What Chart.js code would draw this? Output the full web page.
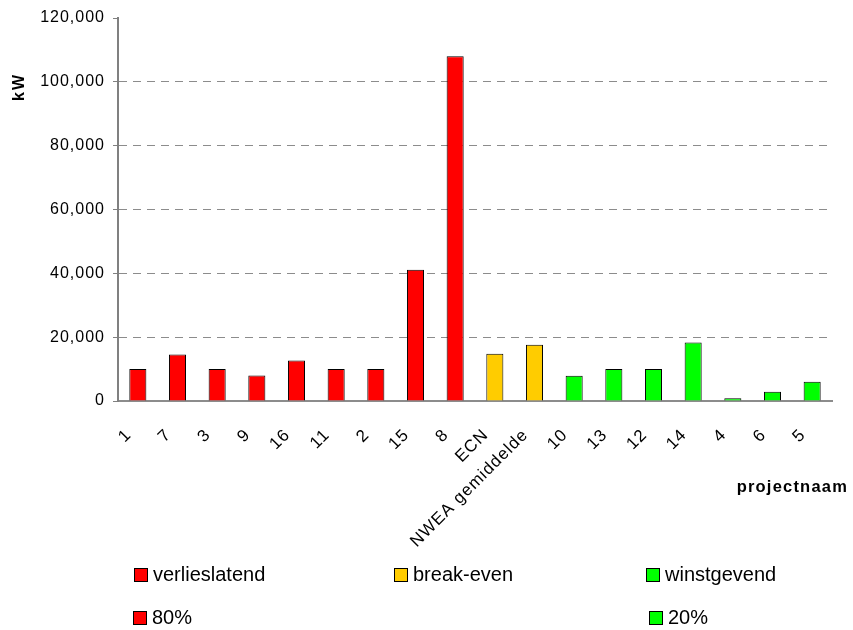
<!DOCTYPE html>
<html>
<head>
<meta charset="utf-8">
<script src="https://cdn.jsdelivr.net/npm/chart.js@4.4.1/dist/chart.umd.min.js"></script>
<style>
  html, body { margin: 0; padding: 0; background: #fff; }
  #wrap { position: relative; width: 853px; height: 630px; overflow: hidden; }
  #c { position: absolute; left: 0; top: 0; }
  .lg { position: absolute; display: flex; align-items: center; white-space: nowrap;
        font: 20px "Liberation Sans", Arial, sans-serif; color: #000; }
  .lg i { display: inline-block; width: 12px; height: 12px; border: 1px solid #000; margin-right: 5px; }
</style>
</head>
<body>
<div id="wrap">
  <canvas id="c" width="853" height="630"></canvas>
  <div id="legend"></div>
</div>
<script>
// Projects, ordered by result group
const categories = ['1', '7', '3', '9', '16', '11', '2', '15', '8', 'ECN', 'NWEA gemiddelde',
                    '10', '13', '12', '14', '4', '6', '5'];

// Installed power (kW) per project, split by result group
const verlieslatend = [10000, 14600, 10000, 8000, 12700, 10000, 10000, 41100, 108000,
                       null, null, null, null, null, null, null, null, null];
const breakEven     = [null, null, null, null, null, null, null, null, null,
                       14800, 17600, null, null, null, null, null, null, null];
const winstgevend   = [null, null, null, null, null, null, null, null, null,
                       null, null, 7900, 10000, 10000, 18300, 900, 2900, 6000];
const share80 = categories.map(() => null);
const share20 = categories.map(() => null);

const yTicks = { min: 0, max: 120000, step: 20000 };
const yTitle = 'kW';
const xTitle = 'projectnaam';

const FONT = '"Liberation Sans", Arial, Helvetica, sans-serif';
const RED = '#ff0000', GOLD = '#ffcc00', GREEN = '#00ff00';

// Slightly wider character spacing for all canvas text
const LETTER_SPACING = '1px';
const spacingPlugin = {
  id: 'textSpacing',
  beforeUpdate(chart) { chart.ctx.letterSpacing = LETTER_SPACING; },
  beforeDraw(chart) { chart.ctx.letterSpacing = LETTER_SPACING; }
};

// Axis titles: value title at the top of the y axis, category title at the right
const axisTitlePlugin = {
  id: 'axisTitles',
  afterDraw(chart) {
    const ctx = chart.ctx;
    ctx.save();
    ctx.letterSpacing = '2px';
    ctx.fillStyle = '#000';
    ctx.font = 'bold 16px ' + FONT;
    ctx.translate(20, 87);
    ctx.rotate(-Math.PI / 2);
    ctx.textAlign = 'center';
    ctx.textBaseline = 'middle';
    ctx.fillText(yTitle, 0, 0);
    ctx.restore();

    ctx.save();
    ctx.letterSpacing = '1.2px';
    ctx.fillStyle = '#000';
    ctx.font = 'bold 16.5px ' + FONT;
    ctx.textAlign = 'right';
    ctx.textBaseline = 'alphabetic';
    ctx.fillText(xTitle, 848, 492);
    ctx.restore();
  }
};

const barStyle = { borderColor: '#000000', borderWidth: 1 };

const chart = new Chart(document.getElementById('c'), {
  type: 'bar',
  data: {
    labels: categories,
    datasets: [
      { label: 'verlieslatend', data: verlieslatend, backgroundColor: RED, ...barStyle },
      { label: 'break-even',    data: breakEven,     backgroundColor: GOLD, ...barStyle },
      { label: 'winstgevend',   data: winstgevend,   backgroundColor: GREEN, ...barStyle },
      { label: '80%',           data: share80,       backgroundColor: RED, ...barStyle },
      { label: '20%',           data: share20,       backgroundColor: GREEN, ...barStyle }
    ]
  },
  options: {
    responsive: false,
    animation: false,
    locale: 'en-US',
    layout: { padding: { left: 0, right: 21, top: 18, bottom: 0 } },
    datasets: {
      bar: { barPercentage: 0.43, categoryPercentage: 1 }
    },
    plugins: { legend: { display: false }, tooltip: { enabled: false } },
    scales: {
      x: {
        stacked: true,
        grid: { display: false, drawTicks: false },
        border: { display: true, color: '#8c8c8c', width: 2 },
        ticks: {
          autoSkip: false, maxRotation: 45, minRotation: 45, padding: 24, labelOffset: -9,
          color: '#000', font: { family: FONT, size: 17 }
        },
        afterFit(scale) { scale.height = 229; }
      },
      y: {
        stacked: true,
        min: yTicks.min,
        max: yTicks.max,
        ticks: { stepSize: yTicks.step, padding: 8, color: '#000', font: { family: FONT, size: 16 } },
        grid: {
          color: (c) => (c.tick && (c.tick.value === yTicks.min || c.tick.value === yTicks.max))
            ? 'rgba(0,0,0,0)' : '#8c8c8c',
          tickColor: '#808080',
          tickLength: 5,
          lineWidth: 1
        },
        border: { display: true, color: '#808080', width: 2, dash: [8, 6] },
        afterFit(scale) { scale.width = 118; }
      }
    }
  },
  plugins: [spacingPlugin, axisTitlePlugin]
});

// Legend in a 3-column grid below the chart
const legendSlots = [
  { left: 134, top: 563 }, { left: 394, top: 563 }, { left: 646, top: 563 },
  { left: 133, top: 606 }, { left: 649, top: 606 }
];
const legendEl = document.getElementById('legend');
chart.data.datasets.forEach((ds, i) => {
  const item = document.createElement('div');
  item.className = 'lg';
  item.style.left = legendSlots[i].left + 'px';
  item.style.top = legendSlots[i].top + 'px';
  const sw = document.createElement('i');
  sw.style.background = ds.backgroundColor;
  item.appendChild(sw);
  item.appendChild(document.createTextNode(ds.label));
  legendEl.appendChild(item);
});
</script>
</body>
</html>
